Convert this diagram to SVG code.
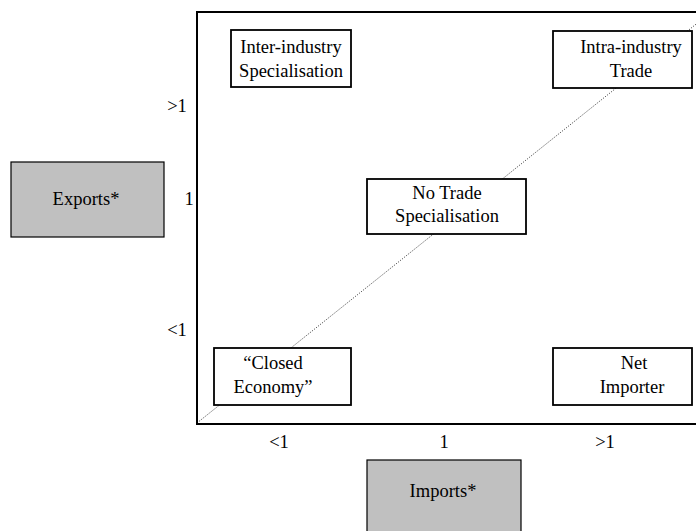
<svg xmlns="http://www.w3.org/2000/svg" width="696" height="531" viewBox="0 0 696 531">
<style>
text{font-family:"Liberation Serif","Times New Roman",serif;font-size:18.5px;fill:#000;text-anchor:middle}
.box{fill:#fff;stroke:#000;stroke-width:1.8}
.grey{fill:#c0c0c0;stroke:#000;stroke-width:1.2}
.axis{fill:none;stroke:#000;stroke-width:2}
.diag{stroke:#000;stroke-width:0.8;stroke-dasharray:1 1.5;fill:none}
</style>
<g id="connectors">
<path class="axis" d="M698,12 H197 V424 H698"/>
<line class="diag" x1="197" y1="423" x2="700" y2="21"/>
</g>
<g id="axis-labels">
<text x="177" y="112">&gt;1</text>
<text x="189" y="205">1</text>
<text x="177" y="336">&lt;1</text>
<text x="279" y="448">&lt;1</text>
<text x="444" y="448">1</text>
<text x="605" y="448">&gt;1</text>
</g>
<g id="exports"><rect class="grey" x="11" y="162" width="153" height="75"/><text x="86" y="205">Exports*</text></g>
<g id="imports"><rect class="grey" x="367" y="460" width="154" height="80"/><text x="443" y="497">Imports*</text></g>
<g id="inter"><rect class="box" x="231" y="30" width="120" height="57"/><text x="291" y="53">Inter-industry</text><text x="291" y="77">Specialisation</text></g>
<g id="intra"><rect class="box" x="553" y="31" width="139" height="57"/><text x="631" y="53">Intra-industry</text><text x="631" y="77">Trade</text></g>
<g id="notrade"><rect class="box" x="367" y="179" width="159" height="55"/><text x="447" y="199">No Trade</text><text x="447" y="222">Specialisation</text></g>
<g id="closed"><rect class="box" x="214" y="348" width="137" height="57"/><text x="273" y="369">“Closed</text><text x="273" y="393">Economy”</text></g>
<g id="net"><rect class="box" x="553" y="348" width="139" height="57"/><text x="634" y="369">Net</text><text x="632" y="393">Importer</text></g>
</svg>
